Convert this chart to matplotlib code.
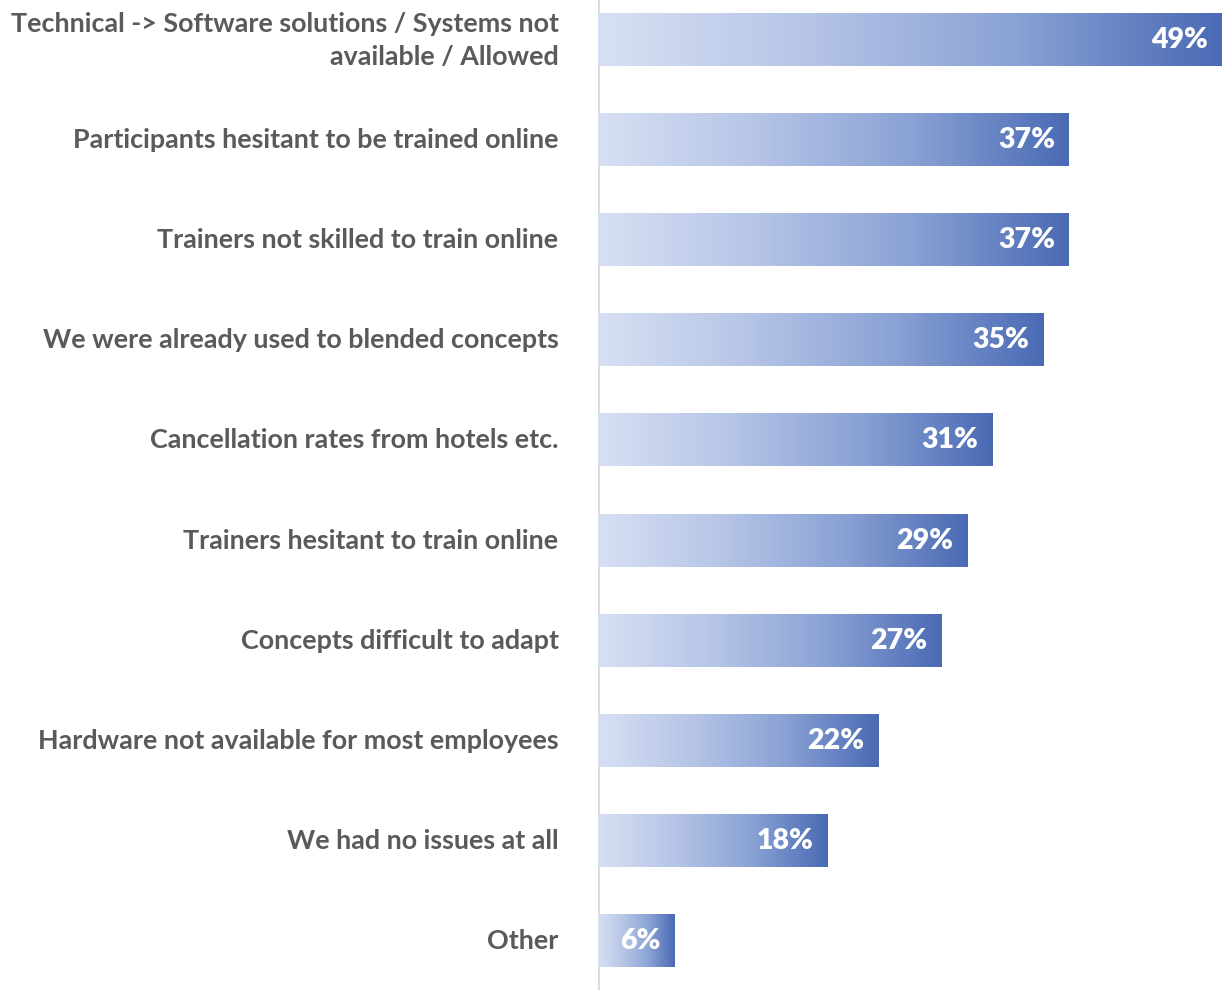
import numpy as np
import matplotlib.pyplot as plt
from matplotlib.colors import LinearSegmentedColormap

# Reasons named for problems with online training, share of respondents (%)
labels = [
    "Technical -> Software solutions / Systems not\navailable / Allowed",
    "Participants hesitant to be trained online",
    "Trainers not skilled to train online",
    "We were already used to blended concepts",
    "Cancellation rates from hotels etc.",
    "Trainers hesitant to train online",
    "Concepts difficult to adapt",
    "Hardware not available for most employees",
    "We had no issues at all",
    "Other",
]
values = [49, 37, 37, 35, 31, 29, 27, 22, 18, 6]

plt.rcParams['font.family'] = ['Lato', 'DejaVu Sans']

fig = plt.figure(figsize=(12.23, 9.9), dpi=100)
ax = fig.add_axes([598 / 1223, 0, 625 / 1223, 1])

# light-to-dark blue fade across each bar
cmap = LinearSegmentedColormap.from_list(
    "bar_fade", ["#d7e0f3", "#b6c5e7", "#8aa2d4", "#4a6ab4"])
grad = np.linspace(0, 1, 256).reshape(1, -1)

bar_h = 0.52
for i, (lab, v) in enumerate(zip(labels, values)):
    ax.imshow(grad, cmap=cmap, aspect='auto', interpolation='bicubic',
              extent=(0, v, i + bar_h / 2, i - bar_h / 2), zorder=2)
    ax.text(v - 1.1, i, f"{v}%", ha='right', va='center', color='white',
            fontsize=20.5, fontweight='heavy', zorder=3)
    ax.text(-3.1, i, lab, ha='right', va='center', color='#5a5a5a',
            fontsize=19.4, fontweight='bold', linespacing=1.45,
            multialignment='right')

ax.set_xlim(0, 49.1)
ax.set_ylim(9.49, -0.40)
ax.axvline(0, color='#d9d9d9', linewidth=2, zorder=1)
ax.axis('off')

fig.savefig("out.png", dpi=100)
